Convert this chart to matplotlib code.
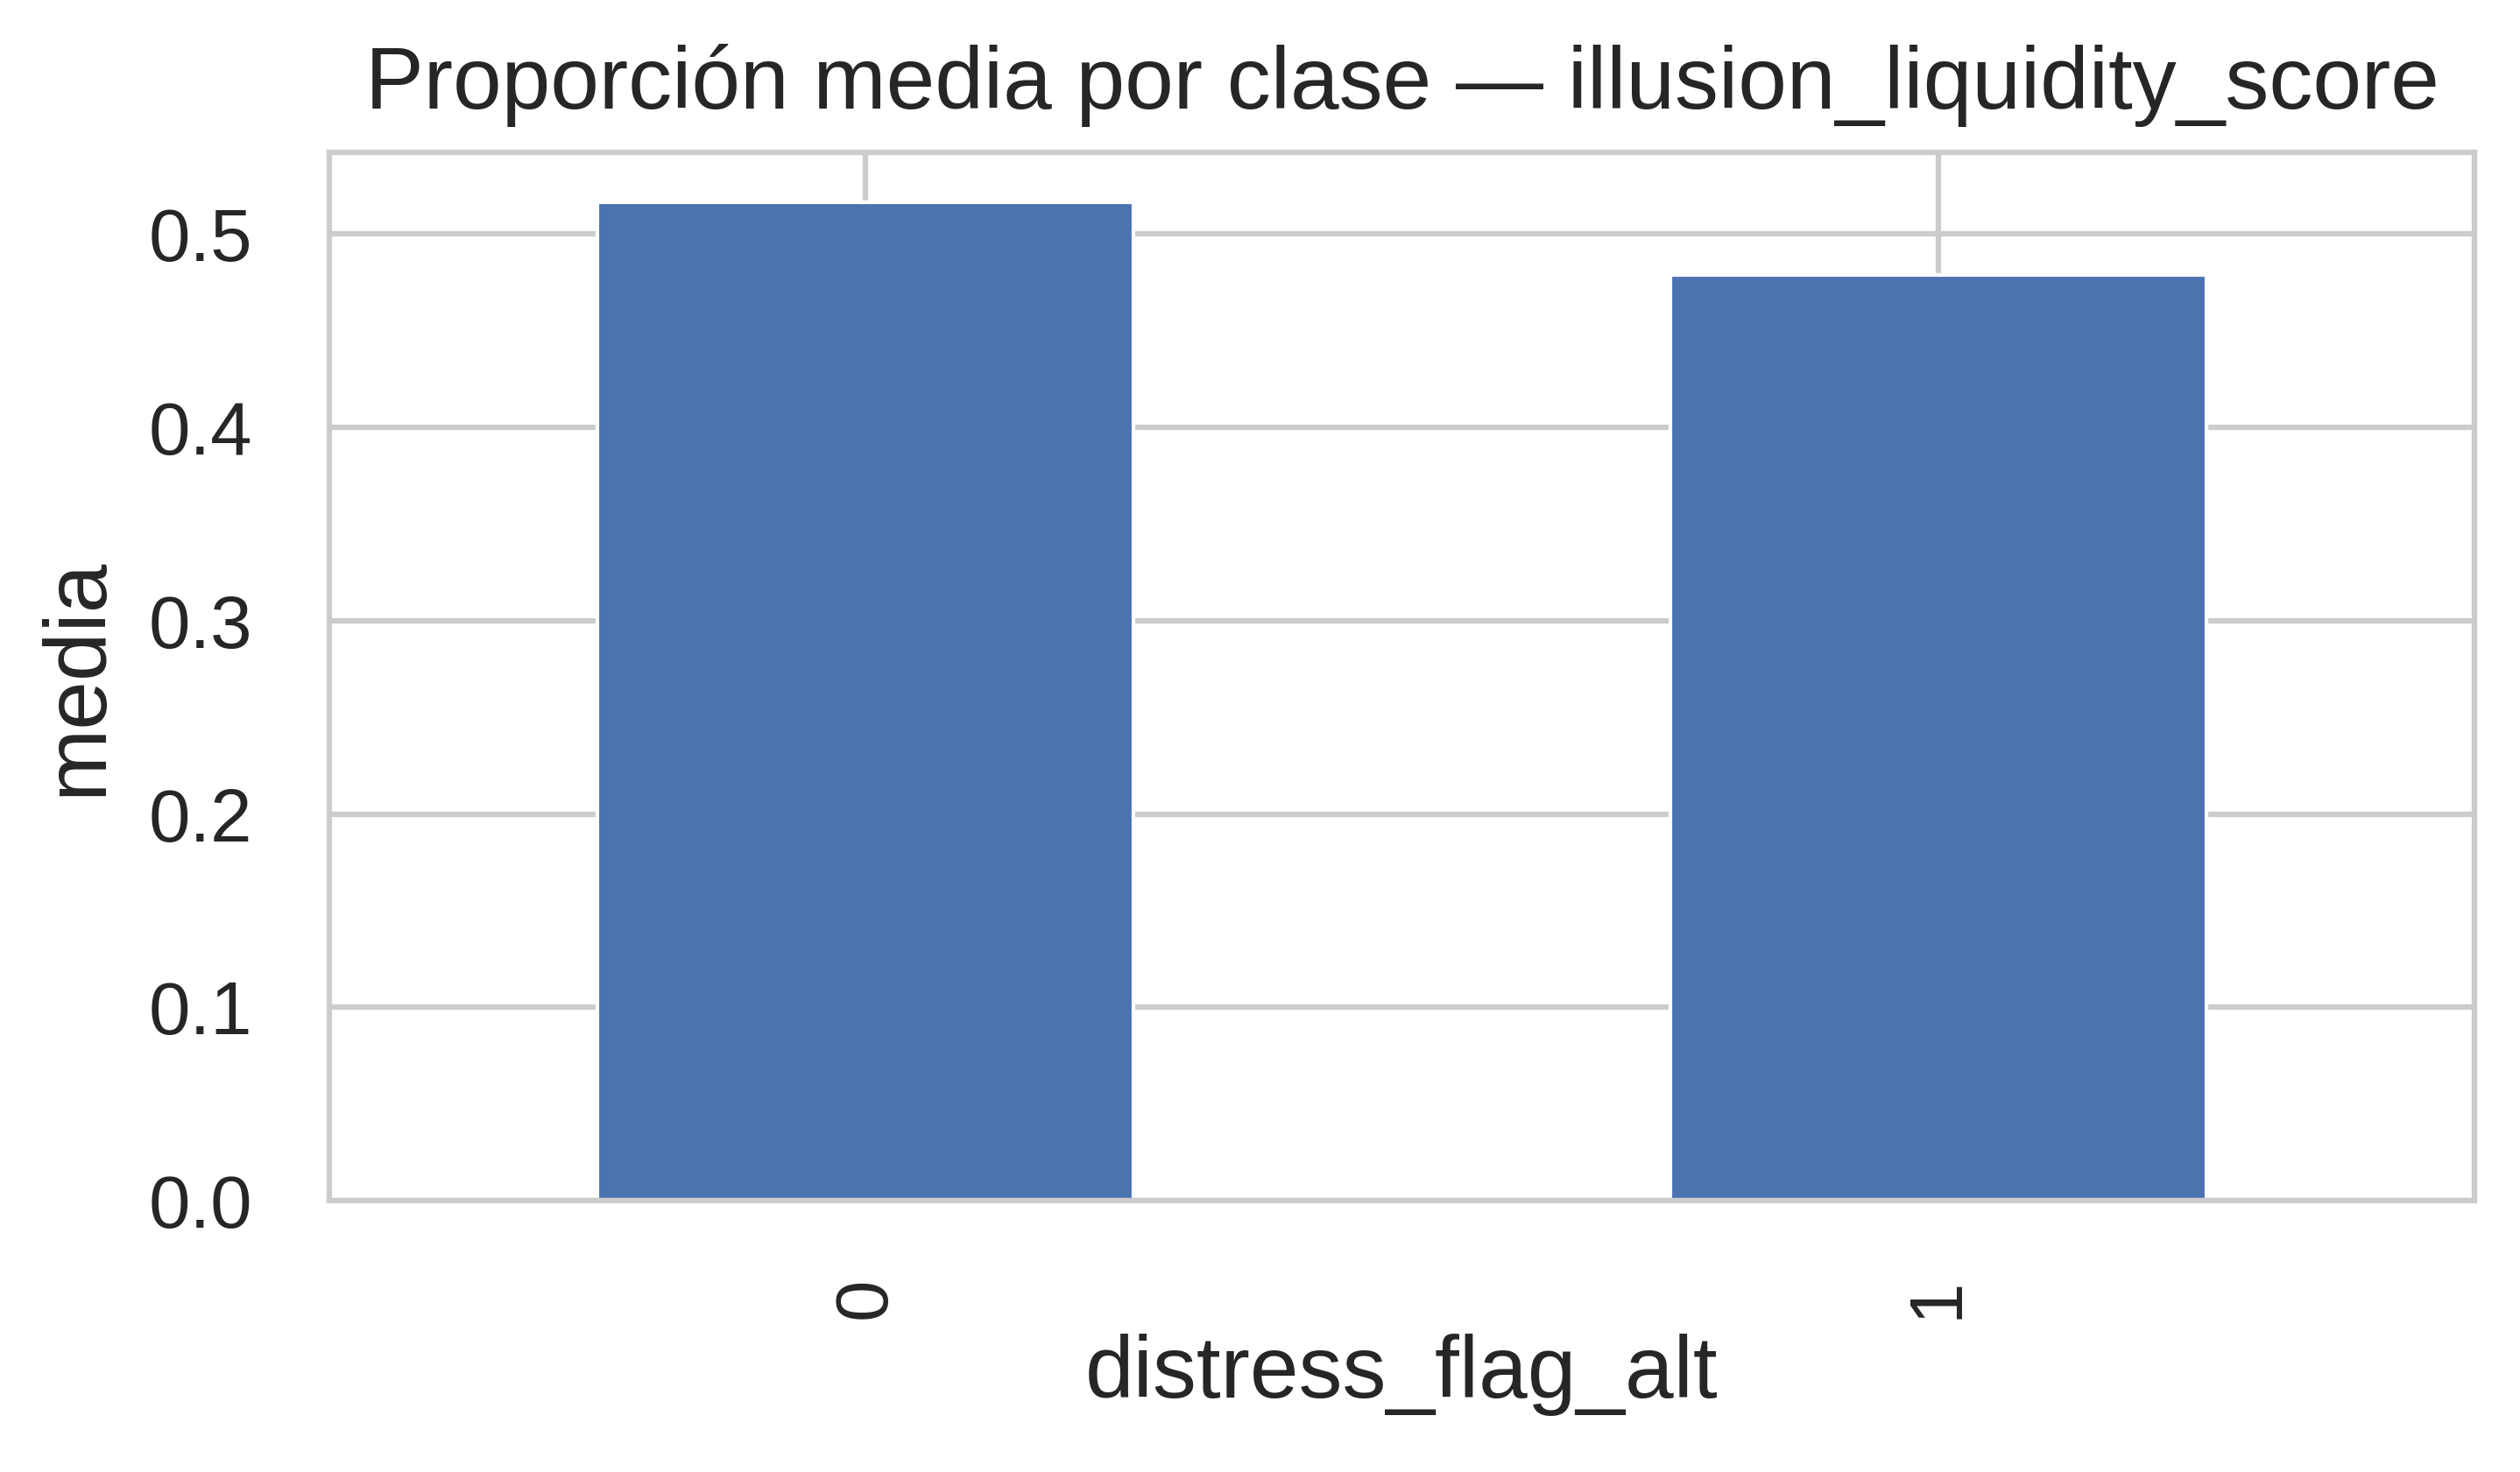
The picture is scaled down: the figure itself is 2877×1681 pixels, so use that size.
import pandas as pd
import matplotlib
matplotlib.use("Agg")
import matplotlib.pyplot as plt
import seaborn as sns

# mean illusion_liquidity_score per class
clases = ["0", "1"]
medias = [0.5165, 0.4787]

sns.set_theme(style="whitegrid")
plt.rcParams['font.family'] = ['Liberation Sans', 'DejaVu Sans']

s = pd.Series(medias, index=clases, name="illusion_liquidity_score")
s.index.name = "distress_flag_alt"

fig = plt.figure(figsize=(2877 / 300, 1681 / 300), dpi=300)
ax = fig.add_axes([376 / 2877, 1 - 1371 / 1681, (2825 - 376) / 2877, (1371 - 174) / 1681])
s.plot(kind="bar", ax=ax, color="#4c72b0", width=0.5)

ax.set_title("Proporción media por clase — illusion_liquidity_score", fontsize=24, pad=12)
ax.set_xlabel("distress_flag_alt", fontsize=24)
ax.set_ylabel("media", fontsize=24, labelpad=8)
ax.tick_params(axis="both", labelsize=20.5, pad=15)
for sp in ax.spines.values():
    sp.set_color("#cccccc")
    sp.set_linewidth(1.5)
ax.grid(linewidth=1.5, color="#cccccc")

fig.savefig("out.png", dpi=300)
